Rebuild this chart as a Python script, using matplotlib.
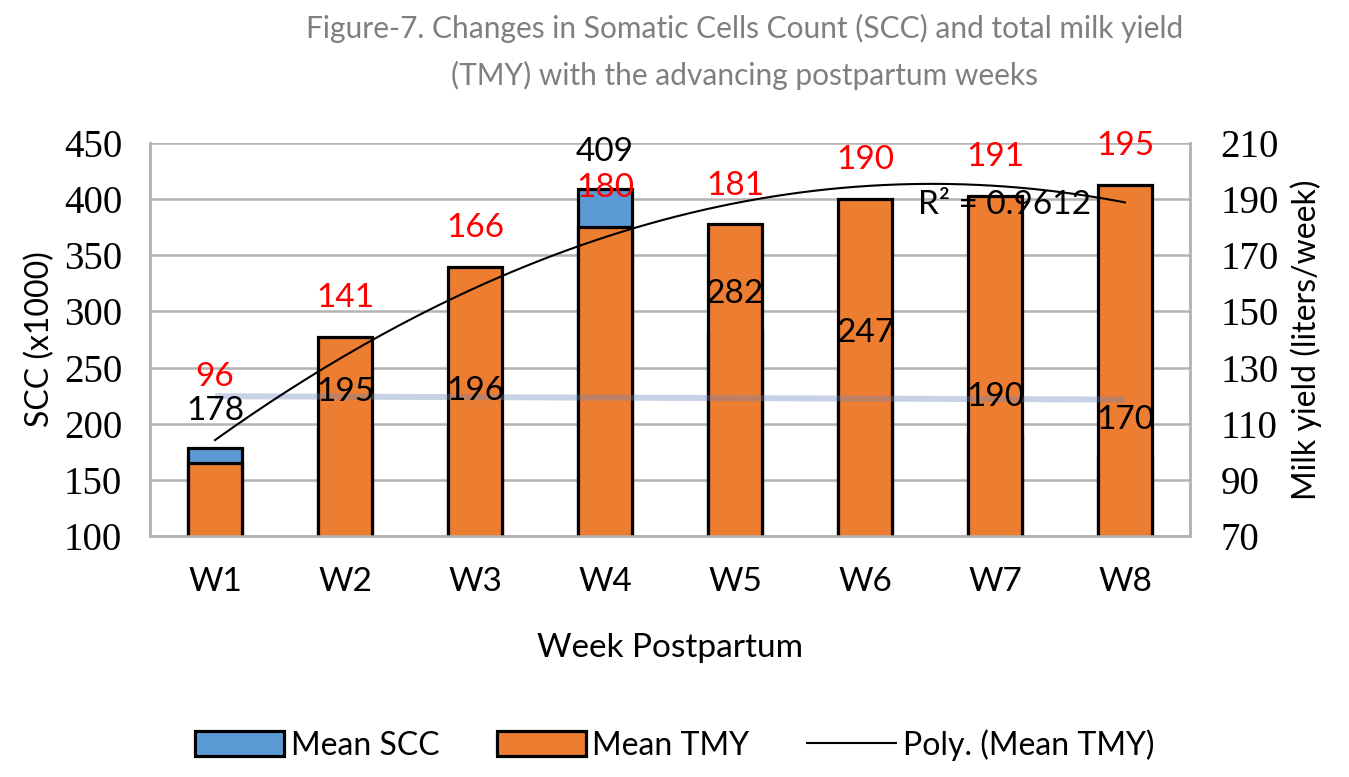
import matplotlib
matplotlib.use('Agg')
import matplotlib.pyplot as plt
from matplotlib.patches import Patch
from matplotlib.lines import Line2D
import numpy as np

# data
weeks = ['W1', 'W2', 'W3', 'W4', 'W5', 'W6', 'W7', 'W8']
scc = [178, 195, 196, 409, 282, 247, 190, 170]
tmy = [96, 141, 166, 180, 181, 190, 191, 195]
scc_line = [224.5, 221.5]   # light blue line, start and end (left axis)

blue = '#5B9BD5'
orange = '#ED7D31'
grid_c = '#B3B3B3'
sans = 'Lato'

fig = plt.figure(figsize=(13.49, 7.77), dpi=100)
ax = fig.add_axes([150/1349, 1-536/777, 1040/1349, 393/777])
ax2 = ax.twinx()

x = np.arange(len(weeks))
w = 0.42

ax.bar(x, scc, w, color=blue, edgecolor='black', linewidth=2.3, zorder=2)
ax.set_ylim(100, 450)
ax.set_xlim(-0.5, 7.5)
ax.set_yticks(range(100, 451, 50))
ax.grid(axis='y', color=grid_c, linewidth=1.8, zorder=0)
ax.set_axisbelow(True)

ax2.bar(x, tmy, w, color=orange, edgecolor='black', linewidth=2.3, zorder=2)
ax2.set_ylim(70, 210)
ax2.set_yticks(range(70, 211, 20))

# TMY bars in front of SCC bars
ax.set_zorder(0)
ax2.set_zorder(1)
ax2.patch.set_visible(False)

# light blue line (left axis values), drawn over the bars
ax2.plot([x[0], x[-1]], scc_line, color='#6C87BD', alpha=0.37, linewidth=4.3,
         zorder=3, transform=ax.transData, solid_capstyle='butt')

# poly trend line
coef = np.polyfit(x + 1, tmy, 2)
xs = np.linspace(0, 7, 200)
ax2.plot(xs, np.polyval(coef, xs + 1), color='black', linewidth=1.5, zorder=4)
ax2.text(6.07, 188, 'R² = 0.9612', fontsize=24, family=sans, ha='center', va='center', zorder=6)

# data labels
for i, v in enumerate(scc):
    ax2.annotate(str(v), (x[i], v), xycoords=ax.transData, xytext=(0, 27),
                 textcoords='offset points', ha='center', va='center', fontsize=24,
                 family=sans, color='black', zorder=6, annotation_clip=False)
for i, v in enumerate(tmy):
    off = 62 if i == 0 else 28
    ax2.annotate(str(v), (x[i], v), xytext=(0, off), textcoords='offset points',
                 ha='center', va='center', fontsize=24, family=sans, color='red', zorder=6,
                 annotation_clip=False)

for a in (ax, ax2):
    a.spines['top'].set_visible(False)
    for s in ['left', 'right', 'bottom']:
        a.spines[s].set_color(grid_c)
        a.spines[s].set_linewidth(1.8)
    a.tick_params(length=0, labelsize=28)
    for lab in a.get_yticklabels():
        lab.set_family('Liberation Serif')
ax.tick_params(axis='y', pad=20)
ax2.tick_params(axis='y', pad=22)

ax.set_xticks(x)
ax.set_xticklabels(weeks, fontsize=24, family=sans)
ax.tick_params(axis='x', pad=22)
ax.set_xlabel('Week Postpartum', fontsize=24, family=sans, labelpad=26)
ax.set_ylabel('SCC (x1000)', fontsize=23, family=sans, labelpad=6)
ax2.set_ylabel('Milk yield (liters/week)', fontsize=23, family=sans, labelpad=8)

fig.suptitle('Figure-7. Changes in Somatic Cells Count (SCC) and total milk yield\n(TMY) with the advancing postpartum weeks',
             x=0.552, y=0.982, fontsize=21.5, family=sans, color='#7F7F7F', linespacing=1.75)

handles = [Patch(facecolor=blue, edgecolor='black', linewidth=2.3),
           Patch(facecolor=orange, edgecolor='black', linewidth=2.3),
           Line2D([], [], color='black', linewidth=1.5)]
fig.legend(handles, ['Mean SCC', 'Mean TMY', 'Poly. (Mean TMY)'], loc='center',
           bbox_to_anchor=(0.5, 1-745/777), ncol=3, frameon=False,
           prop={'family': sans, 'size': 23}, handlelength=2.8, handleheight=0.8,
           columnspacing=1.8, handletextpad=0.2)

fig.savefig('out.png', dpi=100)
